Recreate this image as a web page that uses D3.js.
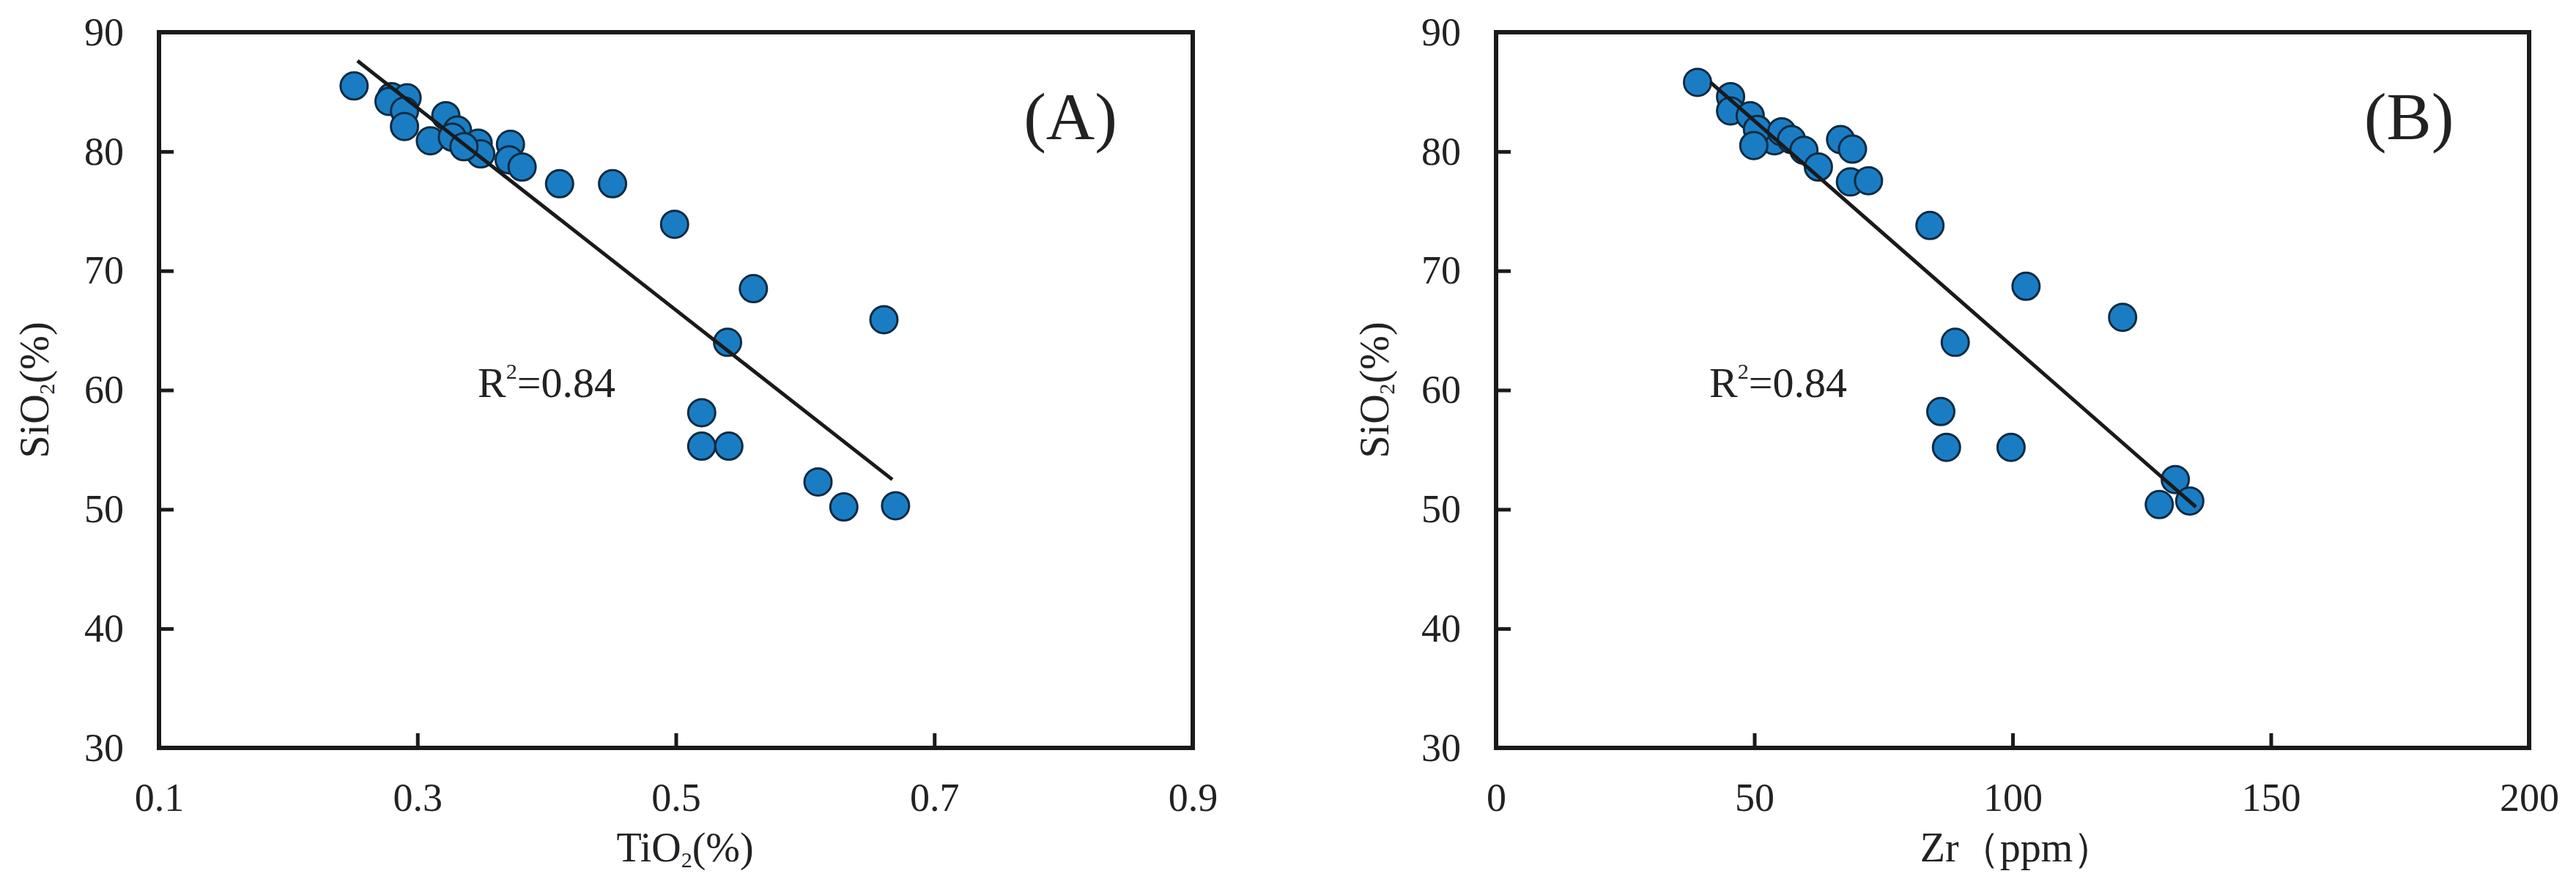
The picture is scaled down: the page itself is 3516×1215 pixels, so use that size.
<!DOCTYPE html>
<html>
<head>
<meta charset="utf-8">
<script src="https://cdn.jsdelivr.net/npm/d3@7"></script>
<style>
  html, body { margin: 0; padding: 0; background: #fff; }
  svg { display: block; }
  text { font-family: "Liberation Serif", "DejaVu Serif", serif; fill: #222; }
</style>
</head>
<body>
<svg id="chart" width="3516" height="1215"></svg>
<script>
// ---------- Data ----------
// Panel A: TiO2 (%) vs SiO2 (%)
const tio2 = [0.251, 0.280, 0.292, 0.278, 0.290, 0.290, 0.310, 0.322, 0.331, 0.327, 0.347, 0.349, 0.336, 0.372, 0.371, 0.381, 0.410, 0.451, 0.499, 0.560, 0.661, 0.540, 0.520, 0.520, 0.541, 0.610, 0.630, 0.670];
const sio2A = [85.5, 84.6, 84.5, 84.2, 83.4, 82.1, 80.9, 83.0, 81.8, 81.2, 80.7, 79.8, 80.4, 80.6, 79.3, 78.7, 77.3, 77.3, 73.9, 68.5, 65.9, 64.0, 58.1, 55.3, 55.3, 52.3, 50.2, 50.3];
const fitA = [[0.2536, 87.6], [0.6675, 52.5]];

// Panel B: Zr (ppm) vs SiO2 (%)
const zr = [39.0, 45.4, 45.4, 49.2, 53.9, 50.6, 49.9, 55.3, 57.2, 59.6, 62.4, 66.7, 69.0, 68.6, 72.1, 84.0, 102.6, 121.3, 88.9, 86.1, 87.2, 99.7, 131.5, 128.4, 134.3];
const sio2B = [85.8, 84.6, 83.4, 83.0, 80.9, 81.85, 80.5, 81.65, 81.0, 80.1, 78.7, 81.0, 80.2, 77.45, 77.55, 73.8, 68.7, 66.1, 64.0, 58.2, 55.2, 55.2, 52.5, 50.4, 50.7];
const fitB = [[41.5, 85.8], [135.5, 50.2]];

// Axis ticks and labels
const yTicks = [30, 40, 50, 60, 70, 80, 90];
const xTicksA = [0.1, 0.3, 0.5, 0.7, 0.9];
const xTicksB = [0, 50, 100, 150, 200];
const r2Text = "0.84";
const panelLabels = ["(A)", "(B)"];

// ---------- Drawing ----------
const svg = d3.select("#chart");
const FILL = "#1a7dc3", EDGE = "#0f2b42", INK = "#1a1a1a";

function drawPanel(p) {
  const x = d3.scaleLinear().domain(p.xDomain).range([p.left, p.right]);
  const y = d3.scaleLinear().domain([30, 90]).range([p.bottom, p.top]);
  const g = svg.append("g");

  // Points
  const pts = p.xs.map((v, i) => [v, p.ys[i]]);
  g.selectAll("circle").data(pts).join("circle")
    .attr("cx", d => x(d[0])).attr("cy", d => y(d[1]))
    .attr("r", 18.5)
    .attr("fill", FILL).attr("stroke", EDGE).attr("stroke-width", 3);

  // Regression line
  g.append("path")
    .attr("d", d3.line().x(d => x(d[0])).y(d => y(d[1]))(p.fit))
    .attr("stroke", INK).attr("stroke-width", 5).attr("fill", "none");

  // Axes (ticks inward)
  const ax = g.append("g").attr("transform", `translate(0,${p.bottom})`)
    .call(d3.axisBottom(x).tickValues(p.xTicks).tickFormat(p.fmt)
      .tickSize(-20).tickPadding(48));
  const ay = g.append("g").attr("transform", `translate(${p.left},0)`)
    .call(d3.axisLeft(y).tickValues(yTicks).tickFormat(d3.format("d"))
      .tickSize(-20).tickPadding(48));
  [ax, ay].forEach(a => {
    a.select(".domain").remove();
    a.selectAll(".tick line").attr("stroke", INK).attr("stroke-width", 5);
    a.selectAll(".tick text").attr("font-size", 54).attr("fill", "#2a2a2a")
      .style("font-family", "'Liberation Serif', serif");
  });

  // Frame
  g.append("rect")
    .attr("x", p.left).attr("y", p.top)
    .attr("width", p.right - p.left).attr("height", p.bottom - p.top)
    .attr("fill", "none").attr("stroke", INK).attr("stroke-width", 6);

  // Panel label
  g.append("text").attr("x", p.labelX).attr("y", 190)
    .attr("text-anchor", "middle").attr("font-size", 92).text(p.label);

  // R^2
  const r = g.append("text").attr("x", p.r2X).attr("y", 542).attr("font-size", 58);
  r.append("tspan").text("R");
  r.append("tspan").attr("font-size", 30).attr("dy", -25).text("2");
  r.append("tspan").attr("dy", 25).text("=" + r2Text);

  // X title
  const xt = g.append("text").attr("x", p.xTitleX).attr("y", 1176)
    .attr("text-anchor", "middle").attr("font-size", 56);
  p.xTitle(xt);

  // Y title (rotated)
  const yt = g.append("text")
    .attr("transform", `translate(${p.yTitleX},${(p.top + p.bottom) / 2}) rotate(-90)`)
    .attr("text-anchor", "middle").attr("font-size", 56);
  yt.append("tspan").text("SiO");
  yt.append("tspan").attr("font-size", 30).attr("dy", 8).text("2");
  yt.append("tspan").attr("dy", -8).text("(%)");
}

drawPanel({
  left: 217, right: 1628, top: 44, bottom: 1021,
  xDomain: [0.1, 0.9], xTicks: xTicksA, fmt: d3.format(".1f"),
  xs: tio2, ys: sio2A, fit: fitA,
  label: panelLabels[0], labelX: 1461, r2X: 652,
  xTitleX: 935, yTitleX: 66,
  xTitle: t => {
    t.append("tspan").text("TiO");
    t.append("tspan").attr("font-size", 30).attr("dy", 8).text("2");
    t.append("tspan").attr("dy", -8).text("(%)");
  }
});

drawPanel({
  left: 2042, right: 3452, top: 44, bottom: 1021,
  xDomain: [0, 200], xTicks: xTicksB, fmt: d3.format("d"),
  xs: zr, ys: sio2B, fit: fitB,
  label: panelLabels[1], labelX: 3288, r2X: 2333,
  xTitleX: 2753, yTitleX: 1895,
  xTitle: t => { t.text("Zr（ppm）"); }
});
</script>
</body>
</html>
